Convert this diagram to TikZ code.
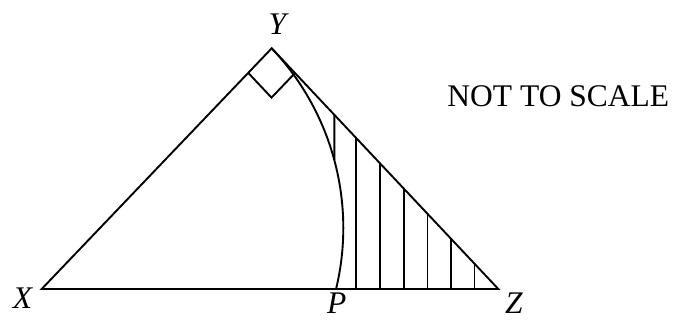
\documentclass[tikz,border=0pt]{standalone}
\usepackage{fontspec}
\setmainfont{Liberation Serif}
\usetikzlibrary{calc,intersections}
\begin{document}
\begin{tikzpicture}[x=1pt,y=-1pt, line width=1.9pt, line join=miter,
  lbl/.style={font=\fontsize{31.5}{36}\selectfont\itshape, inner sep=0pt, anchor=base},
  note/.style={font=\fontsize{31.5}{36}\selectfont, inner sep=0pt, anchor=base},
  hatchline/.style={line width=1.9pt}]
\useasboundingbox (0,0) rectangle (674,320);
\coordinate (X) at (41.7,289);
\coordinate (Y) at (271.7,48.3);
\coordinate (Z) at (498.3,289);
\coordinate (P) at (336,289);
% triangle
\draw (X) -- (Y) -- (Z) -- cycle;
% arc Y to P
\draw[name path=arc] (Y) arc[start angle=-43.45, end angle=13.57, radius=261.3];
% right angle marker
\coordinate (R1) at ($(Y)!34pt!(X)$);
\coordinate (R2) at ($(Y)!34pt!(Z)$);
\draw (R1) -- ($(R1)+(R2)-(Y)$) -- (R2);
% hatching
\path[name path=h1] (334.3,100) -- (334.3,220);
\path[name intersections={of=arc and h1, by=Q}];
\coordinate (T1) at ($(Y)!{(334.3-271.7)/226.6}!(Z)$);
\draw[hatchline] (T1) -- (Q);
\foreach \x in {356,380,404,427.5,451,474.5}{
  \coordinate (T) at ($(Y)!{(\x-271.7)/226.6}!(Z)$);
  \draw[hatchline] (T) -- (T |- X);
}
% labels
\node[lbl] (lY) at (277.5,35) {Y};
\node[lbl] (lX) at (22.5,308.3) {X};
\node[lbl] (lP) at (336.7,313) {P};
\node[lbl] (lZ) at (514,313) {Z};
\node[note] (nts) at (558.3,106.7) {NOT TO SCALE};
\end{tikzpicture}
\end{document}
